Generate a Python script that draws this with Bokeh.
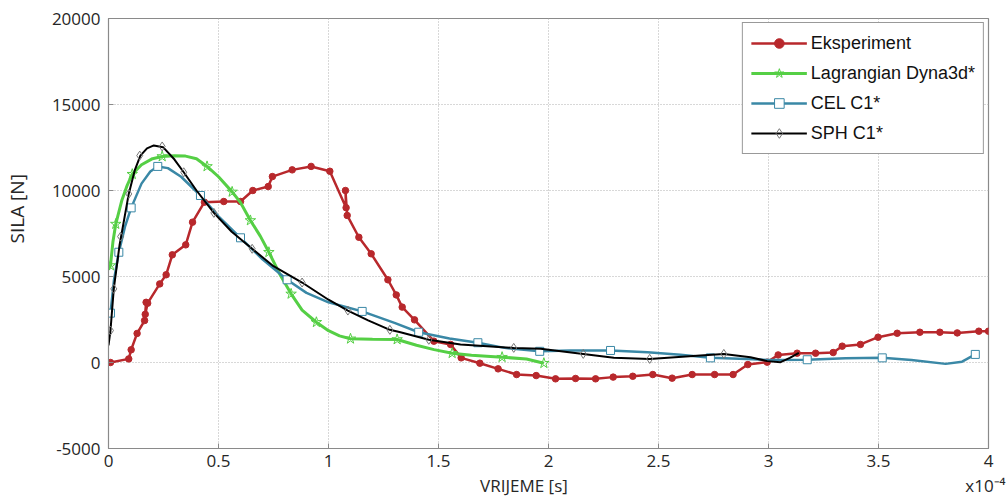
from bokeh.plotting import figure
from bokeh.models import Range1d, FixedTicker, Legend, LegendItem
from bokeh.embed import file_html
from bokeh.resources import INLINE

# ---------------- data (time in units of 1e-4 s, force in N) ----------------
exp_x = [0.009, 0.092, 0.103, 0.13, 0.164, 0.171, 0.167, 0.178, 0.233, 0.262, 0.29, 0.351, 0.382,
         0.436, 0.524, 0.6, 0.656, 0.726, 0.745, 0.835, 0.921, 1.006, 1.08, 1.077, 1.085, 1.138,
         1.194, 1.27, 1.308, 1.335, 1.391, 1.479, 1.555, 1.603, 1.688, 1.771, 1.855, 1.944, 2.032,
         2.123, 2.214, 2.294, 2.383, 2.474, 2.562, 2.653, 2.755, 2.839, 2.906, 2.994, 3.044, 3.13,
         3.214, 3.294, 3.335, 3.418, 3.498, 3.585, 3.688, 3.779, 3.858, 3.956, 4.0]
exp_y = [0, 210, 740, 1690, 2440, 3500, 2800, 3450, 4570, 5100, 6260, 6840, 8160,
         9320, 9360, 9360, 10000, 10230, 10810, 11200, 11400, 11120, 9000, 10000, 8550, 7280,
         6320, 4810, 3930, 3220, 2480, 1240, 1050, 270, -40, -370, -700, -760, -950,
         -930, -950, -850, -800, -700, -910, -700, -700, -700, -120, 20, 440, 540,
         540, 580, 950, 1050, 1470, 1700, 1760, 1760, 1720, 1820, 1820]

lag_x = [0.0, 0.009, 0.02, 0.033, 0.06, 0.085, 0.108, 0.15, 0.2, 0.244, 0.3, 0.35, 0.4, 0.448,
         0.5, 0.562, 0.6, 0.645, 0.69, 0.729, 0.78, 0.83, 0.88, 0.945, 1.0, 1.05, 1.1, 1.2,
         1.312, 1.4, 1.48, 1.562, 1.65, 1.789, 1.9, 1.979]
lag_y = [5400, 5640, 7000, 8050, 9400, 10300, 10950, 11500, 11850, 11980, 12020, 12000, 11850, 11400,
         10800, 9920, 9300, 8260, 7350, 6410, 5100, 3990, 3050, 2340, 1850, 1550, 1380, 1350,
         1340, 1000, 750, 540, 420, 310, 200, -40]
lag_mx = [0.009, 0.033, 0.108, 0.244, 0.448, 0.562, 0.645, 0.729, 0.83, 0.945, 1.1, 1.312, 1.562, 1.789, 1.979]
lag_my = [5640, 8050, 10950, 11980, 11400, 9920, 8260, 6410, 3990, 2340, 1380, 1340, 540, 310, -40]

cel_x = [0.009, 0.025, 0.047, 0.075, 0.103, 0.15, 0.19, 0.224, 0.27, 0.33, 0.418, 0.5, 0.6, 0.7,
         0.812, 0.9, 1.0, 1.153, 1.3, 1.41, 1.55, 1.679, 1.8, 1.96, 2.1, 2.282, 2.45, 2.6, 2.736,
         2.9, 3.0, 3.176, 3.35, 3.517, 3.65, 3.805, 3.88, 3.94]
cel_y = [2870, 4800, 6410, 7900, 8990, 10400, 11100, 11400, 11300, 10800, 9710, 8500, 7250, 6000,
         4810, 4050, 3500, 2970, 2300, 1760, 1400, 1150, 850, 650, 700, 700, 600, 450, 270,
         200, 150, 160, 250, 270, 150, -80, 50, 470]
cel_mx = [0.009, 0.047, 0.103, 0.224, 0.418, 0.6, 0.812, 1.153, 1.41, 1.679, 1.96, 2.282, 2.736, 3.176, 3.517, 3.94]
cel_my = [2870, 6410, 8990, 11400, 9710, 7250, 4810, 2970, 1760, 1150, 650, 700, 270, 160, 270, 470]

sph_x = [0.0, 0.009, 0.024, 0.05, 0.092, 0.12, 0.145, 0.175, 0.206, 0.248, 0.3, 0.342, 0.4, 0.479,
         0.56, 0.653, 0.75, 0.88, 1.0, 1.088, 1.18, 1.279, 1.327, 1.456, 1.6, 1.842, 1.964, 2.158,
         2.297, 2.46, 2.69, 2.797, 2.918, 2.994, 3.055, 3.097, 3.138]
sph_y = [1000, 1860, 4280, 6800, 9800, 11200, 12030, 12450, 12620, 12520, 11800, 11060, 10000, 8700,
         7600, 6610, 5600, 4650, 3650, 3020, 2450, 1900, 1760, 1320, 1050, 850, 800, 500,
         270, 210, 410, 500, 310, 80, 20, 270, 560]
sph_mx = [0.009, 0.024, 0.055, 0.092, 0.142, 0.244, 0.342, 0.479, 0.653, 0.88, 1.088, 1.279, 1.456, 1.842, 2.158, 2.46, 2.797]
sph_my = [1860, 4280, 7320, 9800, 12030, 12560, 11060, 8700, 6610, 4650, 3020, 1900, 1320, 850, 500, 210, 500]

x_ticks = [0, 0.5, 1, 1.5, 2, 2.5, 3, 3.5, 4]
x_tick_labels = ["0", "0.5", "1", "1.5", "2", "2.5", "3", "3.5", "4"]
y_ticks = [-5000, 0, 5000, 10000, 15000, 20000]
y_tick_labels = ["-5000", "0", "5000", "10000", "15000", "20000"]

labels = ["Eksperiment", "Lagrangian Dyna3d*", "CEL C1*", "SPH C1*"]
x_title = "VRIJEME [s]"
x_scale_note = "x10\u207b\u2074"
y_title = "SILA [N]"

RED = "#b8282c"
GREEN = "#55cf45"
BLUE = "#3a88a6"
BLACK = "#000000"

FONT = "Open Sans"
NB = "\u00a0"

p = figure(width=1008, height=500, output_backend="svg", toolbar_location=None,
           x_range=Range1d(0, 4), y_range=Range1d(-5000, 20000),
           min_border_left=108, min_border_right=20, min_border_top=18, min_border_bottom=52)
p.outline_line_color = "#8a8a8a"
p.outline_line_width = 1.2

for ax in (p.xaxis[0], p.yaxis[0]):
    ax.axis_line_color = "#8a8a8a"
    ax.major_tick_in = 5
    ax.major_tick_out = 0
    ax.minor_tick_line_color = None
    ax.major_tick_line_color = "#8a8a8a"
    ax.major_label_text_font = FONT
    ax.major_label_text_font_size = "17px"
    ax.major_label_text_color = "#262626"
    ax.axis_label_text_font = FONT
    ax.axis_label_text_font_style = "normal"
    ax.axis_label_text_color = "#262626"

p.xaxis.ticker = FixedTicker(ticks=x_ticks)
p.xaxis.major_label_overrides = {t: l for t, l in zip(x_ticks, x_tick_labels)}
p.xaxis.major_label_standoff = 6
p.xaxis.axis_label = NB * 88 + x_title + NB * 90 + x_scale_note
p.xaxis.axis_label_text_font_size = "17px"
p.xaxis.axis_label_standoff = 4

p.yaxis.ticker = FixedTicker(ticks=y_ticks)
p.yaxis.major_label_overrides = {t: l for t, l in zip(y_ticks, y_tick_labels)}
p.yaxis.major_label_standoff = 8
p.yaxis.axis_label = NB * 10 + y_title
p.yaxis.axis_label_text_font_size = "19px"
p.yaxis.axis_label_standoff = 19

for g in (p.xgrid[0], p.ygrid[0]):
    g.grid_line_color = "#b0b0b0"
    g.grid_line_dash = "1 2"
    g.grid_line_width = 1
p.xgrid.ticker = FixedTicker(ticks=x_ticks)
p.ygrid.ticker = FixedTicker(ticks=y_ticks)

# data renderers
r_el = p.line(exp_x, exp_y, line_color=RED, line_width=2.5)
r_em = p.scatter(exp_x, exp_y, marker="circle", size=6.5, fill_color=RED, line_color=RED)

r_ll = p.line(lag_x, lag_y, line_color=GREEN, line_width=3)
r_lm = p.scatter(lag_mx, lag_my, marker="star", size=11, fill_alpha=0, line_color=GREEN, line_width=1)

r_cl = p.line(cel_x, cel_y, line_color=BLUE, line_width=2.5)
r_cm = p.scatter(cel_mx, cel_my, marker="square", size=8, fill_color="white", line_color=BLUE, line_width=1)

r_sl = p.line(sph_x, sph_y, line_color=BLACK, line_width=2)
r_sm = p.scatter(sph_mx, sph_my, marker="diamond", size=9, fill_alpha=0, line_color="#777777", line_width=1)

items = [LegendItem(label=labels[0], renderers=[r_el, r_em]),
         LegendItem(label=labels[1], renderers=[r_ll, r_lm]),
         LegendItem(label=labels[2], renderers=[r_cl, r_cm]),
         LegendItem(label=labels[3], renderers=[r_sl, r_sm])]

legend = Legend(items=items, location="top_right", margin=4, padding=8, spacing=6,
                glyph_height=24, glyph_width=56, label_standoff=4, label_height=24,
                label_text_font="Liberation Sans", label_text_font_size="18px",
                label_text_color="#111111", border_line_color="#333333", border_line_width=1.5,
                background_fill_color="white", background_fill_alpha=1)
p.add_layout(legend)

open("out.html", "w").write(file_html(p, INLINE))
